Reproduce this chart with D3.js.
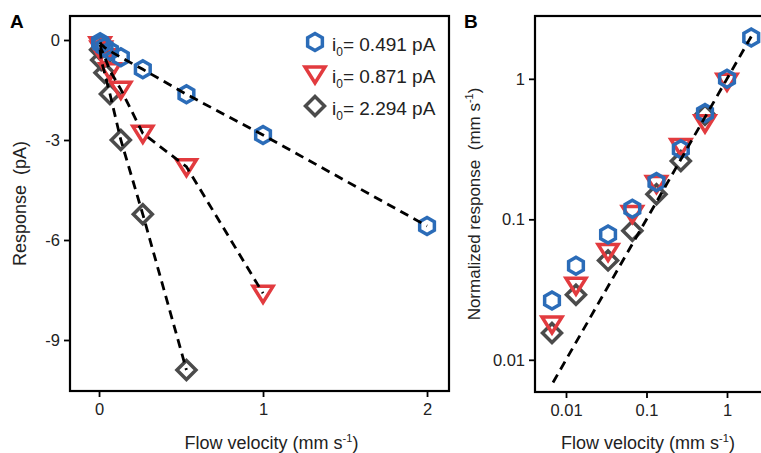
<!DOCTYPE html>
<html>
<head>
<meta charset="utf-8">
<script src="https://cdn.jsdelivr.net/npm/d3@7"></script>
<style>
  body { margin: 0; background: #fff; }
  svg { font-family: "Liberation Sans", Arial, sans-serif; }
</style>
</head>
<body>
<div id="chart"></div>
<script>
// flow velocities (mm/s)
var velocity = [0.0067, 0.0133, 0.0333, 0.0667, 0.133, 0.267, 0.533, 1, 2];

// panel A: raw response (pA)
var respBlue = [-0.07, -0.13, -0.22, -0.33, -0.52, -0.88, -1.63, -2.85, -5.58];
var respRed = [-0.14, -0.27, -0.5, -0.92, -1.48, -2.8, -3.8, -7.6];
var respGray = [-0.29, -0.6, -0.98, -1.62, -3.0, -5.23, -9.9];

// panel B: normalized response (mm/s)
var normBlue = [0.0264, 0.0467, 0.078, 0.119, 0.184, 0.315, 0.57, 1.0, 1.97];
var normRed = [0.018, 0.034, 0.059, 0.11, 0.18, 0.33, 0.486, 0.96];
var normGray = [0.0155, 0.029, 0.051, 0.083, 0.151, 0.26, 0.555];

// identity reference line in B
var refLineX = [0.0069, 2];

var legendLabels = ["0.491 pA", "0.871 pA", "2.294 pA"];
var ticksAy = [0, -3, -6, -9];
var ticksAx = [0, 1, 2];
var ticksB = [0.01, 0.1, 1];

var colors = ["#2b6cb8", "#e23b3f", "#4b4b4b"];
var shapes = ["hex", "tri", "dia"];

var svg = d3.select("#chart").append("svg")
    .attr("width", 761)
    .attr("height", 453);

//marker path around a center
function markerPath(shape, cx, cy) {
    var p = d3.path();
    if (shape == "hex") {
        var r = 8.5;
        for (var i = 0; i < 6; i++) {
            var a = (-90 + 60 * i) * Math.PI / 180;
            var px = cx + r * Math.cos(a), py = cy + r * Math.sin(a);
            if (i == 0) p.moveTo(px, py); else p.lineTo(px, py);
        }
    } else if (shape == "tri") {
        p.moveTo(cx - 10, cy - 7);
        p.lineTo(cx + 10, cy - 7);
        p.lineTo(cx, cy + 9);
    } else {
        p.moveTo(cx, cy - 9.5);
        p.lineTo(cx + 9.5, cy);
        p.lineTo(cx, cy + 9.5);
        p.lineTo(cx - 9.5, cy);
    }
    p.closePath();
    return p.toString();
}

function drawMarkers(g, xs, ys, x, y, k) {
    g.selectAll("path.m" + k)
        .data(ys)
        .enter()
        .append("path")
        .attr("class", "m" + k)
        .attr("d", (d, i) => markerPath(shapes[k], x(xs[i]), y(d)))
        .attr("fill", "none")
        .attr("stroke", colors[k])
        .attr("stroke-width", 3.5)
        .attr("stroke-linejoin", "miter");
}

function drawDashed(g, xs, ys, x, y) {
    var pts = ys.map((d, i) => [xs[i], d]);
    g.append("path")
        .datum(pts)
        .attr("d", d3.line().x(d => x(d[0])).y(d => y(d[1])))
        .attr("fill", "none")
        .attr("stroke", "#000")
        .attr("stroke-width", 2.8)
        .attr("stroke-dasharray", "9,6");
}

function styleAxis(ax) {
    ax.select(".domain").remove();
    ax.selectAll("line").attr("stroke", "#000").attr("stroke-width", 1.8);
    ax.selectAll("text").attr("font-size", 16.5).attr("fill", "#222");
}

function unitLabel(sel, prefix) {
    sel.append("tspan").text(prefix + "(mm s");
    sel.append("tspan").attr("font-size", 11).attr("dy", -7).text("-1");
    sel.append("tspan").attr("dy", 7).text(")");
}

var plainFmt = d => String(d);

// ---------- Panel A ----------
var A = { left: 70, right: 449, top: 16, bottom: 391 };
var xA = d3.scaleLinear().domain([-0.177, 2.134]).range([A.left, A.right]);
var yA = d3.scaleLinear().domain([0.72, -10.53]).range([A.top, A.bottom]);

var gA = svg.append("g");
styleAxis(gA.append("g")
    .attr("transform", `translate(${A.left},0)`)
    .call(d3.axisLeft(yA).tickValues(ticksAy).tickFormat(plainFmt).tickSize(6).tickPadding(4)));
styleAxis(gA.append("g")
    .attr("transform", `translate(0,${A.bottom})`)
    .call(d3.axisBottom(xA).tickValues(ticksAx).tickFormat(plainFmt).tickSize(6).tickPadding(6)));

var respAll = [respBlue, respRed, respGray];
for (var k = 2; k >= 0; k--) {
    drawMarkers(gA, velocity, respAll[k], xA, yA, k);
}
for (var k = 0; k < 3; k++) {
    drawDashed(gA, velocity, respAll[k], xA, yA);
}

gA.append("rect")
    .attr("x", A.left).attr("y", A.top)
    .attr("width", A.right - A.left).attr("height", A.bottom - A.top)
    .attr("fill", "none").attr("stroke", "#000").attr("stroke-width", 2.2);

// legend
for (var k = 0; k < 3; k++) {
    var ly = 42 + k * 32;
    gA.append("path")
        .attr("d", markerPath(shapes[k], 315, ly))
        .attr("fill", "none")
        .attr("stroke", colors[k])
        .attr("stroke-width", 3.5);
    var t = gA.append("text")
        .attr("x", 332).attr("y", ly + 9)
        .attr("font-size", 19).attr("fill", "#222");
    t.append("tspan").text("i");
    t.append("tspan").attr("font-size", 12).attr("dy", 5).text("0");
    t.append("tspan").attr("dy", -5).text("= " + legendLabels[k]);
}

var yLabA = svg.append("text")
    .attr("transform", `translate(26,${(A.top + A.bottom) / 2}) rotate(-90)`)
    .attr("text-anchor", "middle").attr("font-size", 18).attr("fill", "#222");
yLabA.append("tspan").text("Response\u00a0 (pA)");

var xLabA = svg.append("text")
    .attr("x", (A.left + A.right) / 2 + 12).attr("y", 449)
    .attr("text-anchor", "middle").attr("font-size", 18).attr("fill", "#222");
unitLabel(xLabA, "Flow velocity ");

svg.append("text").attr("x", 10).attr("y", 28)
    .attr("font-size", 19).attr("font-weight", "bold").text("A");

// ---------- Panel B ----------
var B = { left: 535, right: 772, top: 16, bottom: 392 };
var xB = d3.scaleLog().domain([0.00412, 7.2]).range([B.left, B.left + 80.5 * Math.log10(7.2 / 0.00412)]);
var yB = d3.scaleLog().domain([2.8, 0.0059]).range([B.top, B.bottom]);

var gB = svg.append("g");
styleAxis(gB.append("g")
    .attr("transform", `translate(${B.left},0)`)
    .call(d3.axisLeft(yB).tickValues(ticksB).tickFormat(plainFmt).tickSize(6).tickPadding(4)));
styleAxis(gB.append("g")
    .attr("transform", `translate(0,${B.bottom})`)
    .call(d3.axisBottom(xB).tickValues(ticksB).tickFormat(plainFmt).tickSize(6).tickPadding(6)));

var normAll = [normBlue, normRed, normGray];
for (var k = 2; k >= 0; k--) {
    drawMarkers(gB, velocity, normAll[k], xB, yB, k);
}
drawDashed(gB, refLineX, refLineX, xB, yB);

gB.append("rect")
    .attr("x", B.left).attr("y", B.top)
    .attr("width", B.right - B.left).attr("height", B.bottom - B.top)
    .attr("fill", "none").attr("stroke", "#000").attr("stroke-width", 2.2);

var yLabB = svg.append("text")
    .attr("transform", `translate(480,${(B.top + B.bottom) / 2}) rotate(-90)`)
    .attr("text-anchor", "middle").attr("font-size", 17).attr("fill", "#222");
unitLabel(yLabB, "Normalized response\u00a0 ");

var xLabB = svg.append("text")
    .attr("x", 648).attr("y", 449)
    .attr("text-anchor", "middle").attr("font-size", 18).attr("fill", "#222");
unitLabel(xLabB, "Flow velocity ");

svg.append("text").attr("x", 464).attr("y", 28)
    .attr("font-size", 19).attr("font-weight", "bold").text("B");
</script>
</body>
</html>
